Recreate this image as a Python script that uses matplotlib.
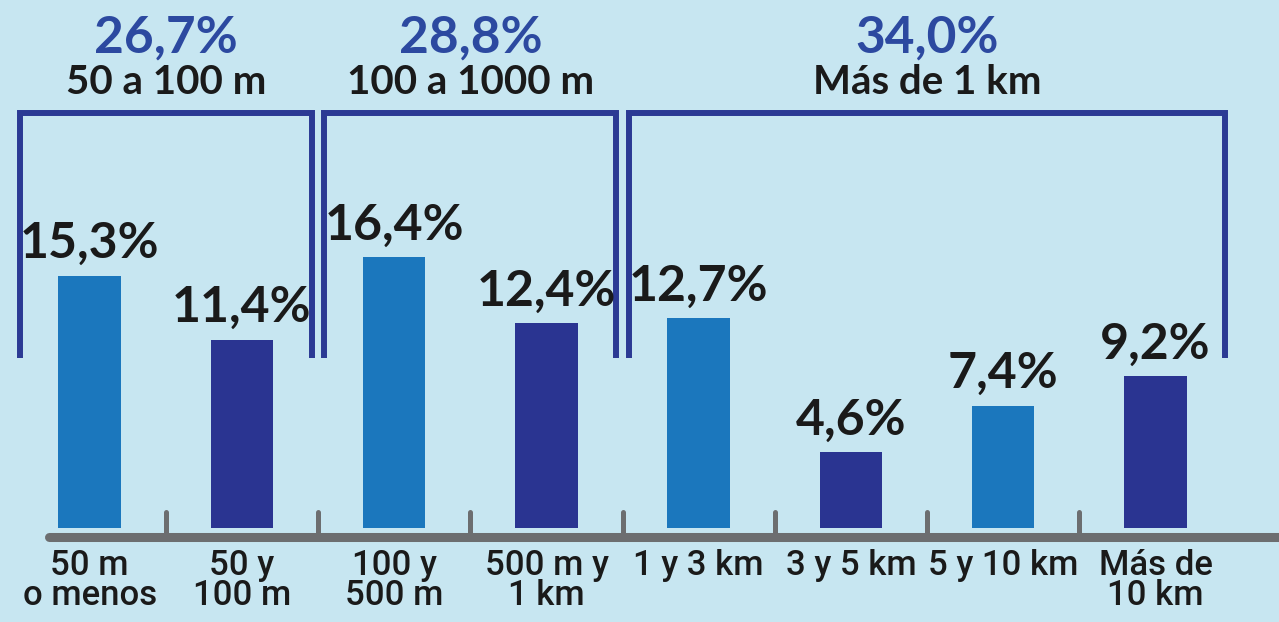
import matplotlib
matplotlib.use("Agg")
import matplotlib.pyplot as plt
import numpy as np

# Distance categories and their shares (%)
categories = ["50 m\no menos", "50 y\n100 m", "100 y\n500 m", "500 m y\n1 km",
              "1 y 3 km", "3 y 5 km", "5 y 10 km", "Más de\n10 km"]
values = [15.3, 11.4, 16.4, 12.4, 12.7, 4.6, 7.4, 9.2]
value_labels = ["15,3%", "11,4%", "16,4%", "12,4%", "12,7%", "4,6%", "7,4%", "9,2%"]

# Groups of categories with their combined share
group_members = [[0, 1], [2, 3], [4, 5, 6, 7]]
group_totals = ["26,7%", "28,8%", "34,0%"]
group_titles = ["50 a 100 m", "100 a 1000 m", "Más de 1 km"]

BG = "#c7e6f1"
LIGHT = "#1b77bd"
DARK = "#2a3491"
BRACKET = "#2b3a94"
HEAD = "#2c49a0"
AXIS = "#6c6e70"
INK = "#1a1a1a"

W, H, DPI = 1279, 622, 100
fig = plt.figure(figsize=(W / DPI, H / DPI), dpi=DPI, facecolor=BG)
ax = fig.add_axes([0, 0, 1, 1])
ax.set_facecolor(BG)
ax.axis("off")

step = 152.25          # pixels per category slot
x0 = 89.7              # pixel position of first slot
ppu = 16.5             # pixels per percentage point
base_px = 528          # pixel row of bar base (from top)
ax.set_xlim(-x0 / step, (W - x0) / step)
ax.set_ylim(-(H - base_px) / ppu, base_px / ppu)

x = np.arange(len(values))
colors = [LIGHT if i % 2 == 0 else DARK for i in range(len(values))]
bars = ax.bar(x, values, width=0.41, color=colors, zorder=3)

val_font = ["Lato", "DejaVu Sans"]
for b, lab in zip(bars, value_labels):
    ax.annotate(lab, (b.get_x() + b.get_width() / 2, b.get_height()),
                xytext=(0, 7), textcoords="offset points", ha="center", va="bottom",
                fontsize=36, fontweight="bold", color=INK, family=val_font)

trans = ax.get_xaxis_transform()

def fy(py):
    return 1 - py / H

# baseline and ticks
ax.plot([-0.27, len(values) + 0.6], [fy(537)] * 2, transform=trans, color=AXIS,
        lw=6.5, solid_capstyle="round", zorder=2)
for t in x[:-1] + 0.5:
    ax.plot([t, t], [fy(537), fy(512)], transform=trans, color=AXIS, lw=3.6,
            solid_capstyle="round", zorder=2)

cat_font = ["Roboto", "DejaVu Sans"]
for xi, lab in zip(x, categories):
    ax.text(xi, fy(549), lab, transform=trans, ha="center", va="top",
            fontsize=25, fontweight="medium", color=INK, family=cat_font,
            linespacing=0.88)

# group brackets and headers
inset = 0.04
for members, tot, title in zip(group_members, group_totals, group_titles):
    left = members[0] - 0.5 + inset
    right = members[-1] + 0.5 - inset
    ytop, ybot = fy(113), fy(358)
    ax.plot([left, left, right, right], [ybot, ytop, ytop, ybot], transform=trans,
            color=BRACKET, lw=4.3, solid_joinstyle="miter", solid_capstyle="butt", zorder=2)
    cx = (left + right) / 2
    ax.text(cx, fy(38), tot, transform=trans, ha="center", va="center",
            fontsize=37, fontweight="bold", color=HEAD, family=val_font)
    ax.text(cx, fy(83), title, transform=trans, ha="center", va="center",
            fontsize=29, fontweight="bold", color=INK, family=val_font)

fig.savefig("out.png", dpi=DPI, facecolor=BG)
